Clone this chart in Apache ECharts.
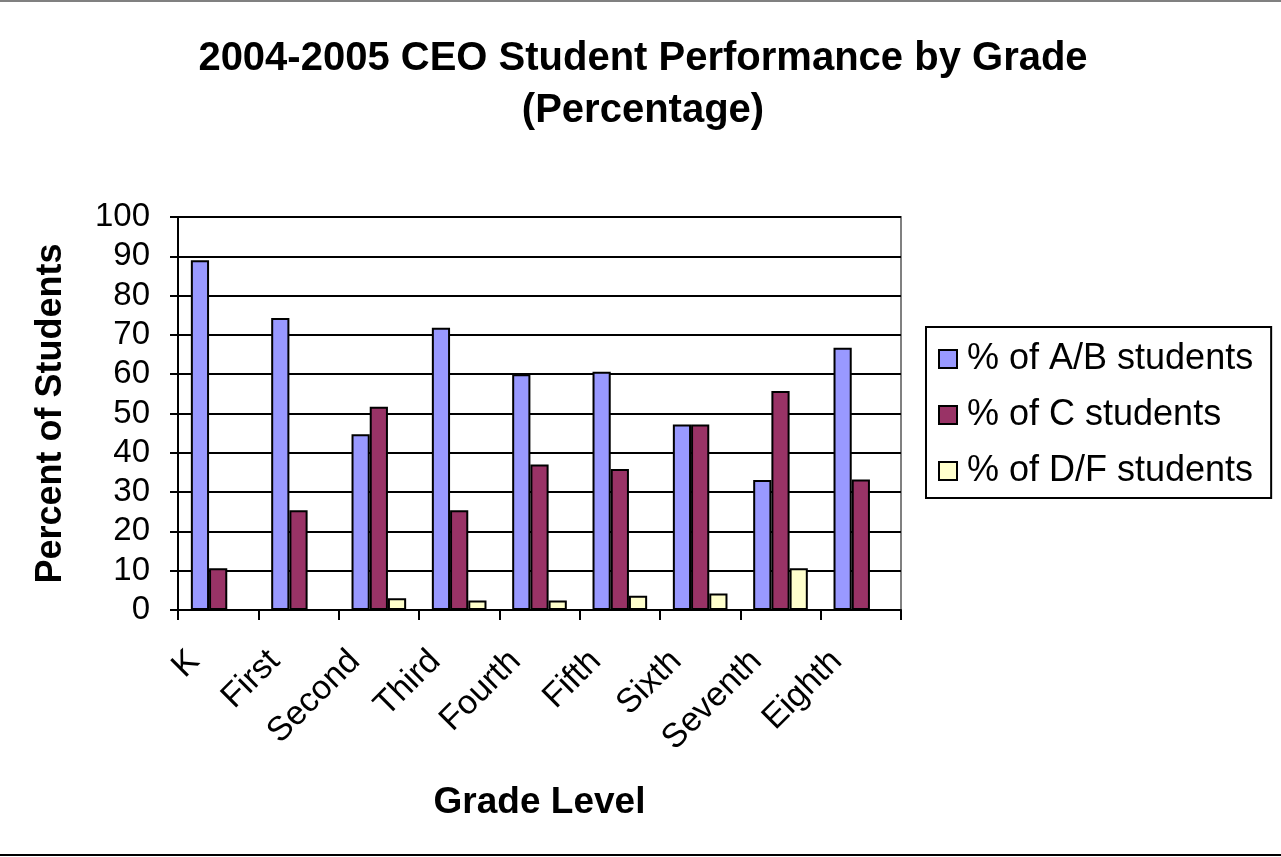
<!DOCTYPE html>
<html><head><meta charset="utf-8">
<script src="https://cdn.jsdelivr.net/npm/echarts@6/dist/echarts.min.js"></script>
<style>html,body{margin:0;padding:0;background:#fff}#c{width:1281px;height:857px}</style>
</head><body><div id="c"></div>
<script>
const categories = ['K','First','Second','Third','Fourth','Fifth','Sixth','Seventh','Eighth'];
const abStudents = [89.0, 74.3, 44.7, 71.8, 60.0, 60.6, 47.2, 33.1, 66.7];
const cStudents  = [10.6, 25.4, 51.7, 25.4, 37.0, 35.9, 47.2, 55.7, 33.2];
const dfStudents = [0, 0, 3.0, 2.4, 2.4, 3.6, 4.2, 10.6, 0];
const seriesNames = ['% of A/B students', '% of C students', '% of D/F students'];
const yTicks = [0,10,20,30,40,50,60,70,80,90,100];

const chart = echarts.init(document.getElementById('c'));
const font = 'Arial, "Liberation Sans", sans-serif';
const colors = ['#9999FF', '#993366', '#FFFFCC'];
const mk = (name, data, i) => ({
  name, type: 'bar', data, barGap: '0%', barCategoryGap: '32%',
  itemStyle: { color: colors[i], borderColor: '#000', borderWidth: 2 },
  emphasis: { disabled: true }
});
chart.setOption({
  animation: false,
  backgroundColor: '#fff',
  textStyle: { fontFamily: font },
  title: {
    text: '2004-2005 CEO Student Performance by Grade\n(Percentage)',
    left: 638, top: 28, textAlign: 'center',
    textStyle: { fontSize: 40, fontWeight: 'bold', color: '#000', lineHeight: 52, fontFamily: font }
  },
  legend: {
    orient: 'vertical', left: 926, top: 327,
    padding: [14, 18, 9, 12], itemGap: 20,
    borderColor: '#000', borderWidth: 2,
    itemWidth: 18, itemHeight: 18, icon: 'rect',
    textStyle: { fontSize: 36, color: '#000', fontFamily: font, padding: [0, 0, 0, 5] },
    data: seriesNames.map((n, i) => ({ name: n, itemStyle: { color: colors[i], borderColor: '#000', borderWidth: 2 } }))
  },
  grid: { left: 178, right: 380, top: 217, bottom: 247, containLabel: false,
          show: true, borderColor: '#808080', borderWidth: 2 },
  xAxis: {
    type: 'category', data: categories,
    name: 'Grade Level', nameLocation: 'middle', nameGap: 174,
    nameTextStyle: { fontSize: 37, fontWeight: 'bold', color: '#000', fontFamily: font },
    axisLine: { lineStyle: { color: '#000', width: 2 } },
    axisTick: { show: true, length: 10, lineStyle: { color: '#000', width: 2 } },
    axisLabel: { rotate: 45, fontSize: 34, color: '#000', margin: 22, fontFamily: font, padding: [0, 34, 0, 0] }
  },
  yAxis: {
    type: 'value', min: 0, max: 100, interval: 10,
    name: 'Percent of Students', nameLocation: 'middle', nameGap: 109, nameRotate: 90,
    nameTextStyle: { fontSize: 36, fontWeight: 'bold', color: '#000', fontFamily: font },
    axisLine: { show: true, lineStyle: { color: '#000', width: 2 } },
    axisTick: { show: true, length: 8, lineStyle: { color: '#000', width: 2 } },
    axisLabel: { fontSize: 33, color: '#000', margin: 28, fontFamily: font,
      formatter: v => yTicks.includes(v) ? String(v) : '' },
    splitLine: { lineStyle: { color: '#000', width: 2 } }
  },
  series: [
    mk(seriesNames[0], abStudents, 0),
    mk(seriesNames[1], cStudents, 1),
    mk(seriesNames[2], dfStudents, 2)
  ],
  graphic: [
    { type: 'line', shape: { x1: 0, y1: 1, x2: 1281, y2: 1 }, style: { stroke: '#808080', lineWidth: 2 } },
    { type: 'line', shape: { x1: 0, y1: 855, x2: 1281, y2: 855 }, style: { stroke: '#000', lineWidth: 2 } }
  ]
});
</script></body></html>
